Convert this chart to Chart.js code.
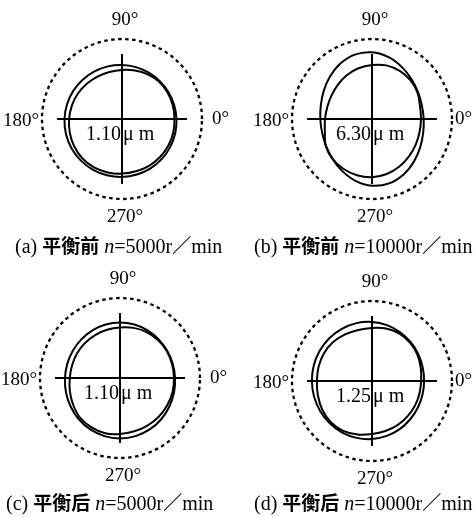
<!DOCTYPE html>
<html>
<head>
<meta charset="utf-8">
<script src="https://cdn.jsdelivr.net/npm/chart.js@4.4.1/dist/chart.umd.min.js"></script>
<style>
  html, body { margin: 0; padding: 0; background: #fff; width: 474px; height: 517px; overflow: hidden; }
  canvas.panel { position: absolute; }
  .cap { position: absolute; font: 20px "Liberation Serif", serif; line-height: 20px; white-space: nowrap; color: #000; }
  .cap .zh { font-family: "Noto Sans CJK SC", sans-serif; font-weight: 700; font-size: 19px; }
</style>
</head>
<body>
<canvas id="pa" class="panel"></canvas>
<canvas id="pb" class="panel"></canvas>
<canvas id="pc" class="panel"></canvas>
<canvas id="pd" class="panel"></canvas>
<div id="ca" class="cap"></div>
<div id="cb" class="cap"></div>
<div id="cc" class="cap"></div>
<div id="cd" class="cap"></div>
<script>
// Orbit radii sampled every 15 degrees, counter-clockwise from 0°
const orbitAngles = [0, 15, 30, 45, 60, 75, 90, 105, 120, 135, 150, 165,
                     180, 195, 210, 225, 240, 255, 270, 285, 300, 315, 330, 345];
const compassLabels = ['0°', '90°', '180°', '270°'];
const gaugeRadius = 80;
const crossHalfLength = 65;

// (a) before balancing, 5000 r/min
const outerA = [54.5, 54.0, 53.7, 53.5, 53.5, 53.7, 54.0, 54.5, 55.0, 55.6, 56.3, 56.9,
                57.5, 58.0, 58.3, 58.5, 58.5, 58.3, 58.0, 57.5, 57.0, 56.4, 55.7, 55.1];
const innerA = [52.5, 52.6, 52.7, 52.5, 51.5, 50.2, 49.0, 48.7, 49.0, 49.8, 50.9, 51.9,
                52.9, 54.0, 55.1, 55.9, 55.9, 55.3, 54.6, 54.1, 54.0, 53.8, 53.4, 53.0];
// (b) before balancing, 10000 r/min
const outerB = [51.7, 51.7, 53.2, 56.0, 59.9, 64.0, 66.7, 66.6, 63.7, 59.6, 55.8, 53.0,
                51.7, 51.7, 53.2, 56.0, 59.9, 64.0, 66.7, 66.6, 63.7, 59.6, 55.8, 53.0];
const innerB = [49.0, 49.7, 52.5, 54.5, 55.5, 55.5, 54.0, 52.5, 50.5, 48.4, 46.8, 46.3,
                47.0, 48.8, 53.5, 56.0, 57.5, 58.2, 58.2, 56.9, 54.9, 52.6, 50.6, 49.3];
// (c) after balancing, 5000 r/min
const outerC = [55.0, 54.6, 54.5, 54.7, 55.1, 55.4, 55.5, 55.4, 55.1, 54.7, 54.5, 54.6,
                55.0, 55.9, 57.0, 58.3, 59.4, 60.2, 60.5, 60.2, 59.4, 58.3, 57.0, 55.9];
const innerC = [54.0, 53.9, 54.0, 53.7, 53.1, 51.9, 50.5, 49.9, 49.6, 49.5, 49.5, 49.6,
                50.2, 51.9, 54.0, 56.3, 56.9, 57.2, 56.0, 55.2, 54.9, 54.8, 54.5, 54.4];
// (d) after balancing, 10000 r/min
const outerD = [52.1, 52.5, 53.5, 54.8, 56.3, 57.8, 59.0, 59.9, 60.3, 60.5, 60.4, 60.3,
                60.1, 60.0, 59.9, 59.8, 59.5, 58.9, 58.0, 56.8, 55.5, 54.1, 53.0, 52.3];
const innerD = [49.1, 50.5, 52.5, 54.0, 54.8, 54.3, 53.0, 52.9, 53.8, 55.0, 55.4, 55.3,
                55.1, 56.0, 57.4, 58.3, 57.5, 55.4, 53.0, 51.8, 51.0, 50.1, 49.5, 49.1];

// Peak-to-peak runout shown in each panel
const runoutValues = ['1.10', '6.30', '1.10', '1.25'];
const runoutUnit = 'μ m';

// Caption parts
const captionTags = ['(a)', '(b)', '(c)', '(d)'];
const captionStates = ['平衡前', '平衡前', '平衡后', '平衡后'];
const captionSpeeds = ['5000', '10000', '5000', '10000'];

const panels = [
  { canvas: 'pa', cap: 'ca', left: 0,   top: 0,   w: 237, h: 232, ox: 122, oy: 119, east: 90, capLeft: 15,  capTop: 235, outer: outerA, inner: innerA },
  { canvas: 'pb', cap: 'cb', left: 237, top: 0,   w: 237, h: 232, ox: 135, oy: 119, east: 83, capLeft: 254, capTop: 235, outer: outerB, inner: innerB },
  { canvas: 'pc', cap: 'cc', left: 0,   top: 260, w: 237, h: 232, ox: 120, oy: 118, east: 90, capLeft: 6,   capTop: 492, outer: outerC, inner: innerC },
  { canvas: 'pd', cap: 'cd', left: 237, top: 260, w: 237, h: 232, ox: 135, oy: 121, east: 83, capLeft: 254, capTop: 492, outer: outerD, inner: innerD }
];

const rad = d => d * Math.PI / 180;

// Closed orbit: one extra sample on each side so the spline wraps smoothly at 0°
function orbitPoints(radii) {
  const n = orbitAngles.length;
  const step = orbitAngles[1] - orbitAngles[0];
  const pts = [];
  for (let k = -1; k <= n + 1; k++) {
    const r = radii[(k + n) % n];
    const a = rad(k * step);
    pts.push({ x: r * Math.cos(a), y: r * Math.sin(a) });
  }
  return pts;
}

function gaugePoints() {
  const pts = [];
  for (let a = 0; a <= 360; a += 5) {
    pts.push({ x: gaugeRadius * Math.cos(rad(a)), y: gaugeRadius * Math.sin(rad(a)) });
  }
  return pts;
}

function orbitDataset(radii) {
  const data = orbitPoints(radii);
  const last = data.length - 2;
  return {
    data,
    showLine: true,
    borderColor: '#000',
    borderWidth: 2,
    tension: 0.34,
    pointRadius: 0,
    segment: {
      borderColor: ctx => (ctx.p0DataIndex === 0 || ctx.p0DataIndex === last) ? 'rgba(0,0,0,0)' : '#000'
    }
  };
}

const panelText = {
  id: 'panelText',
  afterDatasetsDraw(chart, args, opts) {
    const { ctx, scales: { x, y } } = chart;
    ctx.save();
    ctx.fillStyle = '#000';
    ctx.font = '19px "Liberation Serif", serif';
    ctx.textBaseline = 'middle';
    // compass angles
    ctx.textAlign = 'left';
    ctx.fillText(compassLabels[0], x.getPixelForValue(opts.east), y.getPixelForValue(0));
    ctx.textAlign = 'center';
    ctx.fillText(compassLabels[1], x.getPixelForValue(3), y.getPixelForValue(99));
    ctx.textAlign = 'right';
    ctx.fillText(compassLabels[2], x.getPixelForValue(-83), y.getPixelForValue(-2));
    ctx.textAlign = 'center';
    ctx.fillText(compassLabels[3], x.getPixelForValue(3), y.getPixelForValue(-98));
    // runout value, split by the vertical axis
    ctx.font = '20px "Liberation Serif", serif';
    ctx.textAlign = 'right';
    ctx.fillText(opts.value, x.getPixelForValue(-1), y.getPixelForValue(-16));
    ctx.textAlign = 'left';
    ctx.fillText(runoutUnit, x.getPixelForValue(1), y.getPixelForValue(-16));
    ctx.restore();
  }
};

panels.forEach((p, i) => {
  const cv = document.getElementById(p.canvas);
  cv.style.left = p.left + 'px';
  cv.style.top = p.top + 'px';
  cv.width = p.w;
  cv.height = p.h;
  cv.style.width = p.w + 'px';
  cv.style.height = p.h + 'px';

  new Chart(cv, {
    type: 'scatter',
    data: {
      datasets: [
        { data: gaugePoints(), showLine: true, borderColor: '#000', borderWidth: 2.3, borderDash: [3.5, 3.5], tension: 0.33, pointRadius: 0 },
        { data: [{ x: -crossHalfLength, y: 0 }, { x: crossHalfLength, y: 0 }], showLine: true, borderColor: '#000', borderWidth: 2, pointRadius: 0 },
        { data: [{ x: 0, y: -crossHalfLength }, { x: 0, y: crossHalfLength }], showLine: true, borderColor: '#000', borderWidth: 2, pointRadius: 0 },
        orbitDataset(p.outer),
        orbitDataset(p.inner)
      ]
    },
    options: {
      responsive: false,
      animation: false,
      events: [],
      layout: { padding: 0 },
      scales: {
        x: { type: 'linear', display: false, min: -p.ox, max: p.w - p.ox },
        y: { type: 'linear', display: false, min: -(p.h - p.oy), max: p.oy }
      },
      plugins: {
        legend: { display: false },
        tooltip: { enabled: false },
        panelText: { value: runoutValues[i], east: p.east }
      }
    },
    plugins: [panelText]
  });

  const cap = document.getElementById(p.cap);
  cap.style.left = p.capLeft + 'px';
  cap.style.top = p.capTop + 'px';
  cap.innerHTML = captionTags[i] + ' <span class="zh">' + captionStates[i] + '</span> <i>n</i>=' +
    captionSpeeds[i] + 'r<span class="zh">／</span>min';
});
</script>
</body>
</html>
